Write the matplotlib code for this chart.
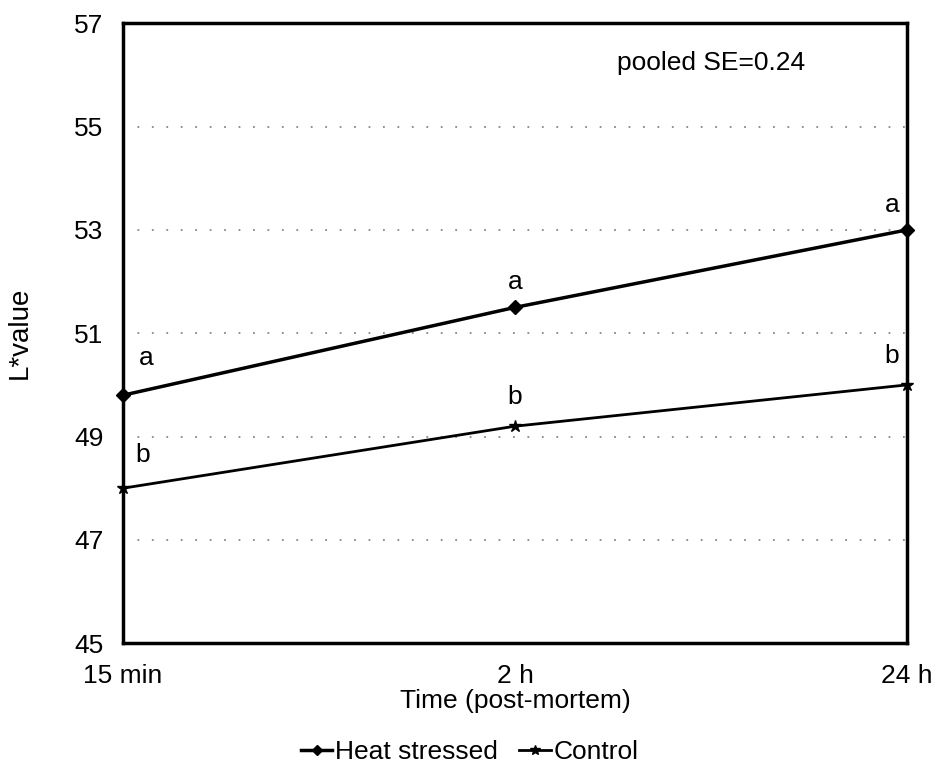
import matplotlib
matplotlib.use('Agg')
import matplotlib.pyplot as plt

plt.rcParams['font.family'] = ['Liberation Sans', 'DejaVu Sans']

times = ['15 min', '2 h', '24 h']
heat_stressed = [49.8, 51.5, 53.0]
control = [48.0, 49.2, 50.0]
heat_letters = ['a', 'a', 'a']
control_letters = ['b', 'b', 'b']
y_ticks = [45, 47, 49, 51, 53, 55, 57]
grid_levels = [47, 49, 51, 53, 55]

fig = plt.figure(figsize=(9.39, 7.74), dpi=100)
ax = fig.add_axes([0.131, 0.169, 0.835, 0.801])

x = list(range(len(times)))

for g in grid_levels:
    ax.axhline(g, color='#888888', linestyle=(0, (1, 7)), linewidth=1.3, zorder=0)

ax.plot(x, heat_stressed, color='black', linewidth=2.5, marker='D', markersize=7,
        label='Heat stressed', clip_on=False, zorder=3)
ax.plot(x, control, color='black', linewidth=2.0, marker='*', markersize=9,
        label='Control', clip_on=False, zorder=3)

# significance letters (offsets in points)
heat_off = [(17, 27), (0, 18), (-11, 18)]
ctrl_off = [(14, 24), (0, 21), (-11, 21)]
for i in x:
    ax.annotate(heat_letters[i], (x[i], heat_stressed[i]), xytext=heat_off[i],
                textcoords='offset points', ha='center', va='center', fontsize=19)
    ax.annotate(control_letters[i], (x[i], control[i]), xytext=ctrl_off[i],
                textcoords='offset points', ha='center', va='center', fontsize=19)

ax.text(0.75, 0.955, 'pooled SE=0.24', transform=ax.transAxes, ha='center', va='top',
        fontsize=19)

ax.set_xlim(0, 2)
ax.set_ylim(45, 57)
ax.set_yticks(y_ticks)
ax.set_xticks(x)
ax.set_xticklabels(times)
ax.tick_params(length=0, labelsize=19)
ax.tick_params(axis='y', pad=14)
ax.tick_params(axis='x', pad=15)
for sp in ax.spines.values():
    sp.set_linewidth(2.5)

ax.set_xlabel('Time (post-mortem)', fontsize=19, labelpad=1)
ax.set_ylabel('L*value', fontsize=20, labelpad=30)

fig.legend(loc='lower center', bbox_to_anchor=(0.5, -0.018), ncol=2, frameon=False,
           fontsize=19, handlelength=1.2, handletextpad=0.1, columnspacing=0.8,
           markerscale=0.8)

plt.savefig('out.png', dpi=100)
plt.close()
